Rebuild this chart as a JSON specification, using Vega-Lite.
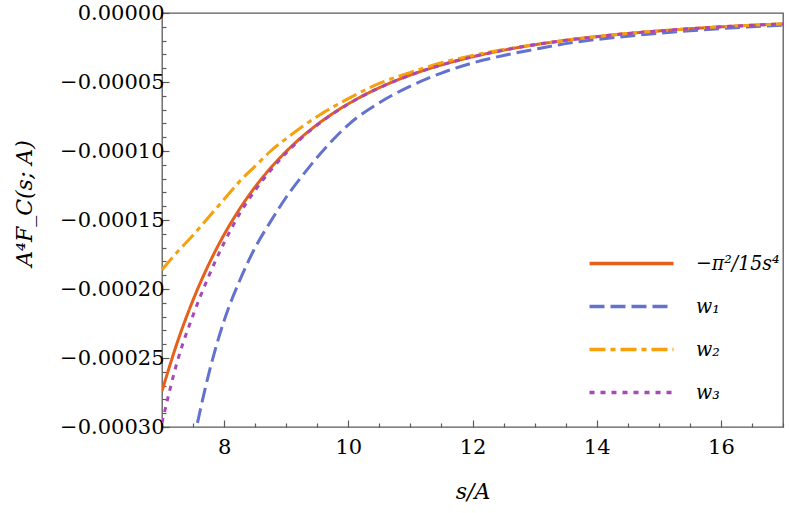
{
  "$schema": "https://vega.github.io/schema/vega-lite/v6.json",
  "width": 621,
  "height": 414,
  "autosize": "none",
  "padding": {"left": 162, "top": 13, "right": 6, "bottom": 86},
  "background": "white",
  "data": {
    "values": [
      {"s": 7.0, "v": -0.0002740, "k": "a"},
      {"s": 7.25, "v": -0.0002382, "k": "a"},
      {"s": 7.5, "v": -0.0002080, "k": "a"},
      {"s": 7.75, "v": -0.0001824, "k": "a"},
      {"s": 8.0, "v": -0.0001606, "k": "a"},
      {"s": 8.25, "v": -0.0001420, "k": "a"},
      {"s": 8.5, "v": -0.0001260, "k": "a"},
      {"s": 8.75, "v": -0.00011225, "k": "a"},
      {"s": 9.0, "v": -0.0001003, "k": "a"},
      {"s": 9.25, "v": -0.00008988, "k": "a"},
      {"s": 9.5, "v": -0.00008078, "k": "a"},
      {"s": 9.75, "v": -0.00007281, "k": "a"},
      {"s": 10.0, "v": -0.00006580, "k": "a"},
      {"s": 10.25, "v": -0.00005961, "k": "a"},
      {"s": 10.5, "v": -0.00005413, "k": "a"},
      {"s": 10.75, "v": -0.00004927, "k": "a"},
      {"s": 11.0, "v": -0.00004494, "k": "a"},
      {"s": 11.5, "v": -0.00003762, "k": "a"},
      {"s": 12.0, "v": -0.00003173, "k": "a"},
      {"s": 12.5, "v": -0.00002695, "k": "a"},
      {"s": 13.0, "v": -0.00002304, "k": "a"},
      {"s": 13.5, "v": -0.00001981, "k": "a"},
      {"s": 14.0, "v": -0.00001713, "k": "a"},
      {"s": 14.5, "v": -0.00001488, "k": "a"},
      {"s": 15.0, "v": -0.00001300, "k": "a"},
      {"s": 15.5, "v": -0.00001140, "k": "a"},
      {"s": 16.0, "v": -0.00001004, "k": "a"},
      {"s": 16.5, "v": -0.00000888, "k": "a"},
      {"s": 17.0, "v": -0.00000788, "k": "a"},

      {"s": 7.5, "v": -0.000312, "k": "w1"},
      {"s": 7.75, "v": -0.000262, "k": "w1"},
      {"s": 8.0, "v": -0.000223, "k": "w1"},
      {"s": 8.25, "v": -0.000194, "k": "w1"},
      {"s": 8.5, "v": -0.000170, "k": "w1"},
      {"s": 8.75, "v": -0.000151, "k": "w1"},
      {"s": 9.0, "v": -0.0001335, "k": "w1"},
      {"s": 9.25, "v": -0.0001185, "k": "w1"},
      {"s": 9.5, "v": -0.0001045, "k": "w1"},
      {"s": 9.75, "v": -0.0000920, "k": "w1"},
      {"s": 10.0, "v": -0.0000810, "k": "w1"},
      {"s": 10.5, "v": -0.0000650, "k": "w1"},
      {"s": 11.0, "v": -0.0000530, "k": "w1"},
      {"s": 11.5, "v": -0.0000435, "k": "w1"},
      {"s": 12.0, "v": -0.0000362, "k": "w1"},
      {"s": 12.5, "v": -0.0000308, "k": "w1"},
      {"s": 13.0, "v": -0.0000263, "k": "w1"},
      {"s": 13.5, "v": -0.0000222, "k": "w1"},
      {"s": 14.0, "v": -0.0000192, "k": "w1"},
      {"s": 14.5, "v": -0.0000168, "k": "w1"},
      {"s": 15.0, "v": -0.0000147, "k": "w1"},
      {"s": 15.5, "v": -0.0000129, "k": "w1"},
      {"s": 16.0, "v": -0.0000113, "k": "w1"},
      {"s": 16.5, "v": -0.0000100, "k": "w1"},
      {"s": 17.0, "v": -0.0000089, "k": "w1"},

      {"s": 7.0, "v": -0.000186, "k": "w2"},
      {"s": 7.25, "v": -0.000173, "k": "w2"},
      {"s": 7.5, "v": -0.000161, "k": "w2"},
      {"s": 7.75, "v": -0.000148, "k": "w2"},
      {"s": 8.0, "v": -0.000135, "k": "w2"},
      {"s": 8.25, "v": -0.000122, "k": "w2"},
      {"s": 8.5, "v": -0.000111, "k": "w2"},
      {"s": 8.75, "v": -0.000100, "k": "w2"},
      {"s": 9.0, "v": -0.000091, "k": "w2"},
      {"s": 9.5, "v": -0.000075, "k": "w2"},
      {"s": 10.0, "v": -0.000062, "k": "w2"},
      {"s": 10.5, "v": -0.000051, "k": "w2"},
      {"s": 11.0, "v": -0.000043, "k": "w2"},
      {"s": 11.5, "v": -0.000036, "k": "w2"},
      {"s": 12.0, "v": -0.0000308, "k": "w2"},
      {"s": 12.5, "v": -0.0000265, "k": "w2"},
      {"s": 13.0, "v": -0.0000229, "k": "w2"},
      {"s": 13.5, "v": -0.0000197, "k": "w2"},
      {"s": 14.0, "v": -0.0000170, "k": "w2"},
      {"s": 14.5, "v": -0.0000148, "k": "w2"},
      {"s": 15.0, "v": -0.0000130, "k": "w2"},
      {"s": 15.5, "v": -0.0000114, "k": "w2"},
      {"s": 16.0, "v": -0.0000100, "k": "w2"},
      {"s": 16.5, "v": -0.0000089, "k": "w2"},
      {"s": 17.0, "v": -0.0000079, "k": "w2"},

      {"s": 7.0, "v": -0.000297, "k": "w3"},
      {"s": 7.25, "v": -0.000252, "k": "w3"},
      {"s": 7.5, "v": -0.000219, "k": "w3"},
      {"s": 7.75, "v": -0.000191, "k": "w3"},
      {"s": 8.0, "v": -0.0001665, "k": "w3"},
      {"s": 8.25, "v": -0.0001455, "k": "w3"},
      {"s": 8.5, "v": -0.0001285, "k": "w3"},
      {"s": 8.75, "v": -0.0001140, "k": "w3"},
      {"s": 9.0, "v": -0.0001015, "k": "w3"},
      {"s": 9.25, "v": -0.0000905, "k": "w3"},
      {"s": 9.5, "v": -0.0000812, "k": "w3"},
      {"s": 10.0, "v": -0.0000660, "k": "w3"},
      {"s": 10.5, "v": -0.0000542, "k": "w3"},
      {"s": 11.0, "v": -0.0000450, "k": "w3"},
      {"s": 11.5, "v": -0.00003765, "k": "w3"},
      {"s": 12.0, "v": -0.00003175, "k": "w3"},
      {"s": 12.5, "v": -0.00002697, "k": "w3"},
      {"s": 13.0, "v": -0.00002305, "k": "w3"},
      {"s": 13.5, "v": -0.00001982, "k": "w3"},
      {"s": 14.0, "v": -0.00001714, "k": "w3"},
      {"s": 14.5, "v": -0.00001489, "k": "w3"},
      {"s": 15.0, "v": -0.00001301, "k": "w3"},
      {"s": 15.5, "v": -0.00001141, "k": "w3"},
      {"s": 16.0, "v": -0.00001005, "k": "w3"},
      {"s": 16.5, "v": -0.00000889, "k": "w3"},
      {"s": 17.0, "v": -0.00000789, "k": "w3"}
    ]
  },
  "mark": {"type": "line", "strokeWidth": 3, "clip": true, "interpolate": "monotone"},
  "encoding": {
    "x": {
      "field": "s",
      "type": "quantitative",
      "scale": {"domain": [7, 17], "nice": false, "zero": false},
      "axis": {
        "values": [7, 7.5, 8, 8.5, 9, 9.5, 10, 10.5, 11, 11.5, 12, 12.5, 13, 13.5, 14, 14.5, 15, 15.5, 16, 16.5, 17],
        "format": ".0f",
        "labelExpr": "datum.value % 2 == 0 && datum.value > 7 && datum.value < 17 ? datum.label : ''",
        "tickSize": {"condition": {"test": "datum.value % 2 == 0", "value": -7}, "value": -4},
        "labelPadding": 16,
        "title": "s/A",
        "titleFontStyle": "italic",
        "titlePadding": 21
      }
    },
    "y": {
      "field": "v",
      "type": "quantitative",
      "scale": {"domain": [-0.0003, 0], "nice": false, "zero": false},
      "axis": {
        "values": [0, -0.00001, -0.00002, -0.00003, -0.00004, -0.00005, -0.00006, -0.00007, -0.00008, -0.00009, -0.0001, -0.00011, -0.00012, -0.00013, -0.00014, -0.00015, -0.00016, -0.00017, -0.00018, -0.00019, -0.0002, -0.00021, -0.00022, -0.00023, -0.00024, -0.00025, -0.00026, -0.00027, -0.00028, -0.00029, -0.0003],
        "format": ".5f",
        "labelExpr": "round(datum.value * 100000) % 5 == 0 ? datum.label : ''",
        "tickSize": {"condition": {"test": "round(datum.value * 100000) % 5 == 0", "value": -7}, "value": -4},
        "labelPadding": 5,
        "title": "A⁴F_C(s; A)",
        "titleFontStyle": "italic",
        "titleX": -126,
        "titleY": 190
      }
    },
    "color": {
      "field": "k",
      "type": "nominal",
      "scale": {"domain": ["a", "w1", "w2", "w3"], "range": ["#E5611B", "#6272CE", "#F5A00C", "#A747B9"]},
      "legend": {
        "orient": "none",
        "legendX": 457,
        "legendY": 238,
        "title": null,
        "symbolType": "M-4,0H4",
        "symbolSize": 441,
        "symbolStrokeWidth": 3.5,
        "labelOffset": 52,
        "rowPadding": 20,
        "labelFont": "DejaVu Serif Condensed, DejaVu Serif",
        "labelFontSize": 21,
        "labelFontStyle": "italic",
        "labelColor": "black",
        "labelLimit": 0,
        "labelExpr": "datum.value == 'a' ? '−π²/15s⁴' : datum.value == 'w1' ? 'w₁' : datum.value == 'w2' ? 'w₂' : 'w₃'"
      }
    },
    "strokeDash": {
      "field": "k",
      "type": "nominal",
      "scale": {"domain": ["a", "w1", "w2", "w3"], "range": [[1, 0], [15, 6], [16, 5, 5, 5], [5, 6]]},
      "legend": null
    }
  },
  "config": {
    "font": "DejaVu Serif",
    "view": {"stroke": "#5a5a5a", "strokeWidth": 1.3},
    "axis": {
      "domain": false,
      "grid": false,
      "tickColor": "#5a5a5a",
      "tickWidth": 1.2,
      "labelFontSize": 21,
      "labelColor": "black",
      "titleFontSize": 22,
      "titleFontWeight": "normal",
      "titleColor": "black",
      "labelOverlap": false
    }
  }
}
